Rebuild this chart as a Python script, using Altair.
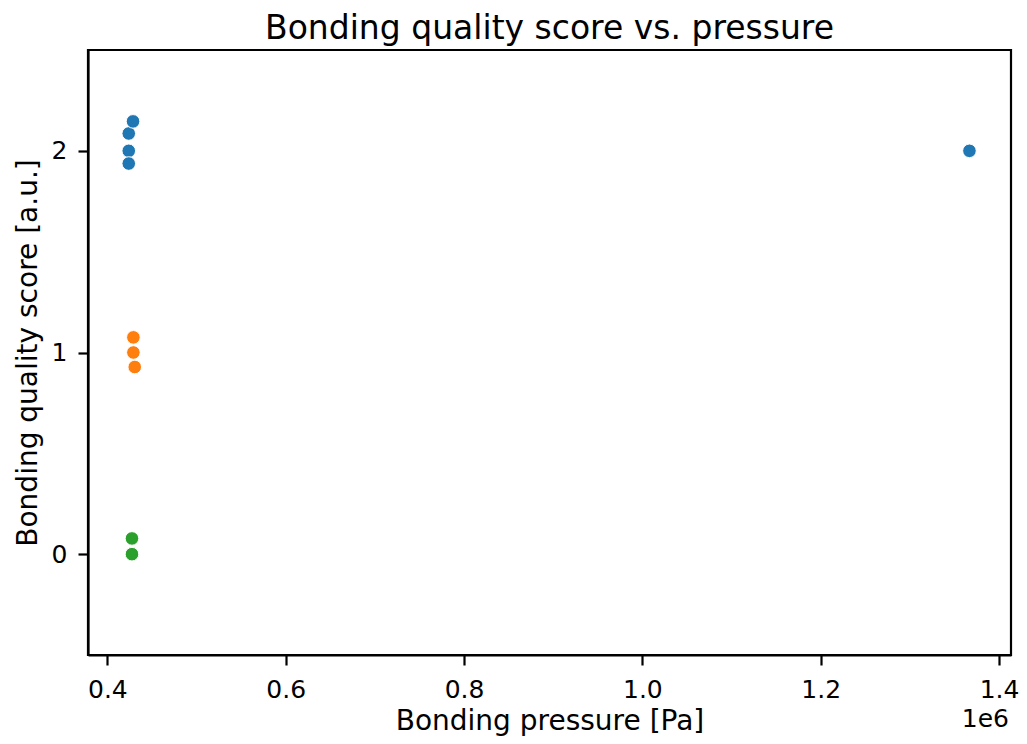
import altair as alt
import pandas as pd

# Data
pressure_pa = [424000, 424000, 424000, 428800, 1366800, 429200, 429200, 430700, 427600, 427600]
score = [2.086, 2.0, 1.937, 2.146, 2.0, 1.075, 1.0, 0.928, 0.078, 0.0]
quality_class = ["2", "2", "2", "2", "2", "1", "1", "1", "0", "0"]

class_order = ["2", "1", "0"]
class_colors = ["#1f77b4", "#ff7f0e", "#2ca02c"]

x_ticks = [400000, 600000, 800000, 1000000, 1200000, 1400000]
y_ticks = [0, 1, 2]
offset_label = ["1e6"]

df = pd.DataFrame({"pressure": pressure_pa, "score": score, "cls": quality_class})
off_df = pd.DataFrame({"t": offset_label})

FONT = "DejaVu Sans"
PLOT_W = 923
PLOT_H = 605

points = alt.Chart(df).mark_point(
    filled=True, size=185, opacity=1, stroke="white", strokeWidth=1
).encode(
    x=alt.X(
        "pressure:Q",
        scale=alt.Scale(domain=[378300, 1413400], nice=False, zero=False),
        axis=alt.Axis(
            title="Bonding pressure [Pa]",
            values=x_ticks,
            labelExpr="format(datum.value / 1e6, '.1f')",
            grid=False,
            tickSize=10,
            tickWidth=2.2,
            tickColor="black",
            domainColor="black",
            domainWidth=2.2,
            labelFont=FONT,
            labelFontSize=25,
            labelColor="black",
            labelBaseline="alphabetic",
            labelPadding=32,
            titleFont=FONT,
            titleFontSize=28,
            titleFontWeight="normal",
            titleColor="black",
            titleBaseline="alphabetic",
            titleY=74,
        ),
    ),
    y=alt.Y(
        "score:Q",
        scale=alt.Scale(domain=[-0.5, 2.5], nice=False, zero=False),
        axis=alt.Axis(
            title="Bonding quality score [a.u.]",
            values=y_ticks,
            format="d",
            grid=False,
            tickSize=10,
            tickWidth=2.2,
            tickColor="black",
            domainColor="black",
            domainWidth=2.2,
            labelFont=FONT,
            labelFontSize=25,
            labelColor="black",
            labelPadding=11,
            titleFont=FONT,
            titleFontSize=28,
            titleFontWeight="normal",
            titleColor="black",
            titleBaseline="alphabetic",
            titleX=-52,
        ),
    ),
    color=alt.Color(
        "cls:N",
        scale=alt.Scale(domain=class_order, range=class_colors),
        legend=None,
    ),
)

offset_text = alt.Chart(off_df).mark_text(
    font=FONT, fontSize=25, align="right", baseline="alphabetic", color="black"
).encode(
    x=alt.value(PLOT_W - 2),
    y=alt.value(677),
    text="t:N",
)

chart = alt.layer(points, offset_text).properties(
    width=PLOT_W,
    height=PLOT_H,
    title=alt.TitleParams(
        "Bonding quality score vs. pressure",
        font=FONT,
        fontSize=33,
        fontWeight="normal",
        color="black",
        anchor="middle",
        baseline="alphabetic",
        offset=15,
        dy=37,
    ),
    autosize=alt.AutoSizeParams(type="none"),
    padding={"left": 80, "top": 42, "right": 8, "bottom": 81},
    background="white",
).configure_view(
    stroke="black", strokeWidth=2.2
)

chart.save("out.html", embed_options={"renderer": "svg", "actions": False})
